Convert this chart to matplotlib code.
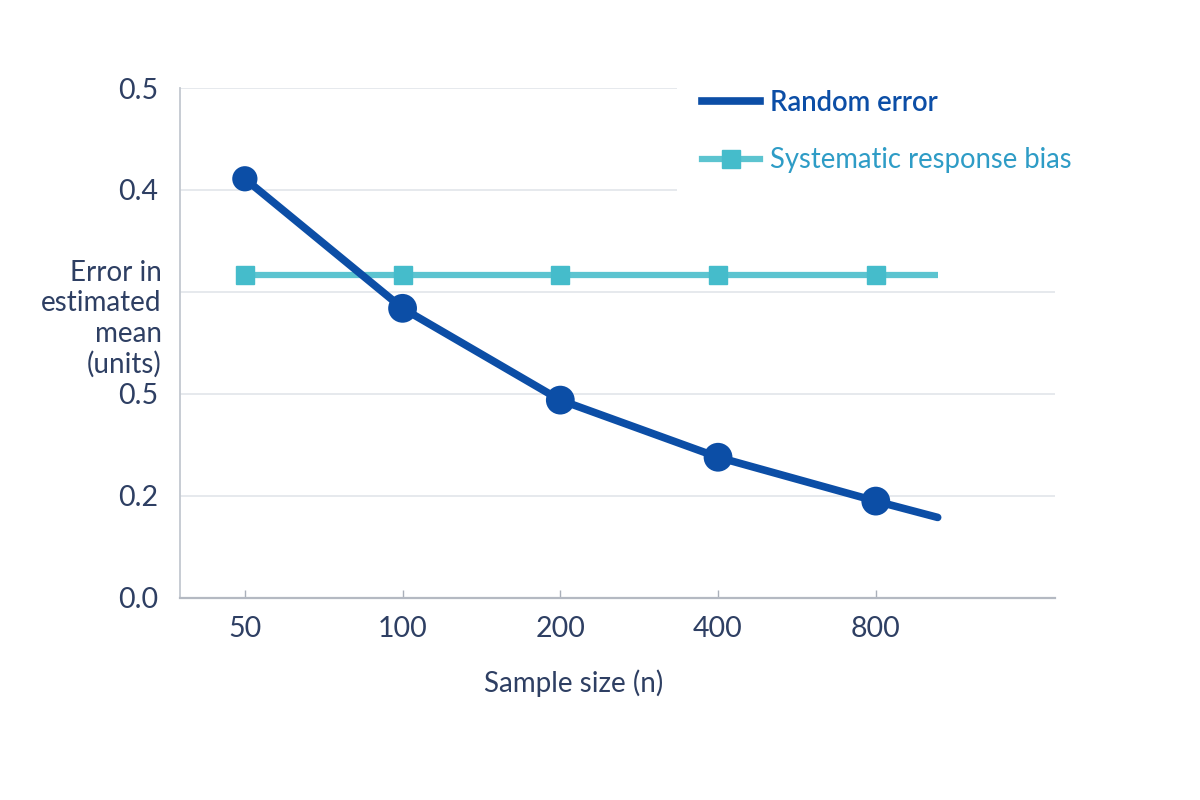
import matplotlib
matplotlib.use("Agg")
import matplotlib.pyplot as plt
from matplotlib.lines import Line2D

# data
sample_sizes = [50, 100, 200, 400, 800, 1050]
random_error = [0.411, 0.284, 0.194, 0.138, 0.095, 0.079]
bias_sizes = [50, 100, 200, 400, 800, 1050]
bias_values = [0.317, 0.317, 0.317, 0.317, 0.317, 0.317]

x_ticks = [50, 100, 200, 400, 800]
x_ticklabels = ["50", "100", "200", "400", "800"]
y_ticks = [0.0, 0.1, 0.2, 0.3, 0.4, 0.5]
y_ticklabels = ["0.0", "0.2", "0.5", "", "0.4", "0.5"]

# colours
dark_blue = "#0c4ea6"
teal = "#5cc4d0"
teal_marker = "#45bccb"
teal_text = "#2e9cc6"
text_col = "#2e3f63"
grid_col = "#e4e7ec"
spine_col = "#c3c8d0"

plt.rcParams["font.family"] = ["Lato", "DejaVu Sans"]

fig = plt.figure(figsize=(12, 8), dpi=100)
fig.patch.set_facecolor("white")
ax = fig.add_axes([0.15, 0.2525, 0.729, 0.6375])

ax.set_xscale("log", base=2)
ax.set_xlim(37.6, 1757)
ax.set_ylim(0, 0.5)

# gridlines
ax.set_yticks(y_ticks)
ax.set_yticklabels(y_ticklabels)
ax.grid(axis="y", color=grid_col, linewidth=1.3, zorder=0)
ax.set_axisbelow(True)

ax.set_xticks(x_ticks)
ax.set_xticklabels(x_ticklabels)
ax.minorticks_off()

# series
ax.plot(bias_sizes, bias_values, color=teal, linewidth=4.5, zorder=3,
        solid_capstyle="butt")
ax.plot(bias_sizes[:5], bias_values[:5], linestyle="none", marker="s",
        markersize=13, color=teal_marker, zorder=4)
ax.plot(sample_sizes, random_error, color=dark_blue, linewidth=5.5,
        solid_capstyle="round", zorder=5)
# last point is only the line end, first dot is a bit smaller
dot_sizes = [330, 430, 430, 430, 430]
ax.scatter(sample_sizes[:5], random_error[:5], s=dot_sizes, color=dark_blue,
           zorder=6, linewidths=0)

# spines and ticks
for side in ["top", "right"]:
    ax.spines[side].set_visible(False)
ax.spines["left"].set_color(spine_col)
ax.spines["left"].set_linewidth(1.3)
ax.spines["bottom"].set_color("#b4b9c2")
ax.spines["bottom"].set_linewidth(1.6)
ax.tick_params(axis="y", length=0, pad=16, labelsize=20.5, labelcolor=text_col)
ax.tick_params(axis="x", direction="in", length=6, width=1, color="#aab0ba",
               pad=13, labelsize=20.5, labelcolor=text_col)

# y label as text block
ax.text(-0.021, 0.547, "Error in\nestimated\nmean\n(units)", transform=ax.transAxes,
        ha="right", va="center", fontsize=20, color=text_col, linespacing=1.2)
ax.text(0.45, -0.168, "Sample size (n)", transform=ax.transAxes,
        ha="center", va="center", fontsize=20, color=text_col)

# legend
handles = [
    Line2D([], [], color=dark_blue, linewidth=5.5),
    Line2D([], [], color=teal, linewidth=4.5, marker="s", markersize=13,
           markerfacecolor=teal_marker, markeredgecolor=teal_marker),
]
leg = ax.legend(handles, ["Random error", "Systematic response bias"],
                loc="upper left", bbox_to_anchor=(677 / 1200, 1 - 65 / 800),
                bbox_transform=fig.transFigure, frameon=True, fontsize=19.8,
                handlelength=2.1, handletextpad=0.4, labelspacing=1.15,
                borderpad=0.9, borderaxespad=0)
leg.get_frame().set_facecolor("white")
leg.get_frame().set_edgecolor("none")
leg.get_frame().set_alpha(1)
leg.set_zorder(7)
texts = leg.get_texts()
texts[0].set_color(dark_blue)
texts[0].set_fontweight("semibold")
texts[1].set_color(teal_text)

fig.savefig("out.png", dpi=100, facecolor="white")
